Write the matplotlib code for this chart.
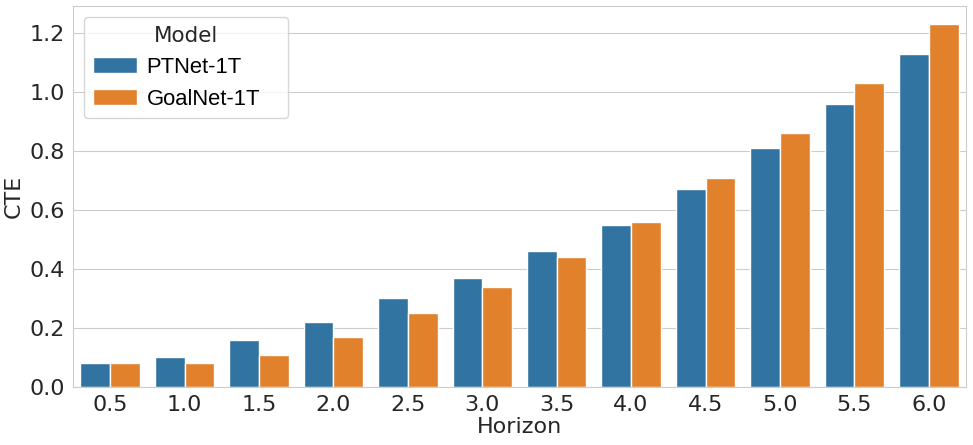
import matplotlib
matplotlib.use("Agg")
import matplotlib.pyplot as plt
import seaborn as sns
import pandas as pd

horizons = ["0.5", "1.0", "1.5", "2.0", "2.5", "3.0", "3.5", "4.0", "4.5", "5.0", "5.5", "6.0"]
ptnet = [0.08, 0.10, 0.16, 0.22, 0.30, 0.37, 0.46, 0.55, 0.67, 0.81, 0.96, 1.13]
goalnet = [0.08, 0.08, 0.11, 0.17, 0.25, 0.34, 0.44, 0.56, 0.71, 0.86, 1.03, 1.23]
models = ["PTNet-1T", "GoalNet-1T"]

df = pd.DataFrame({
    "Horizon": horizons * 2,
    "CTE": ptnet + goalnet,
    "Model": [models[0]] * len(horizons) + [models[1]] * len(horizons),
})

sns.set_style("whitegrid")
fig = plt.figure(figsize=(9.73, 4.45), dpi=100)
ax = fig.add_axes([73 / 973, 1 - 387 / 445, (966 - 73) / 973, (387 - 6) / 445])
sns.barplot(data=df, x="Horizon", y="CTE", hue="Model", order=horizons,
            hue_order=models, palette=["#1f77b4", "#ff7f0e"], ax=ax)
ax.tick_params(labelsize=16, colors="#262626", pad=2.5)
ax.set_xlabel("Horizon", fontsize=16, color="#262626", labelpad=1)
ax.set_ylabel("CTE", fontsize=16, color="#262626")
leg = ax.legend(title="Model", loc="upper left", bbox_to_anchor=(0, 0, 0.253, 1), mode="expand",
                prop={"family": "Liberation Sans", "size": 15.8},
                title_fontsize=15.5, handletextpad=0.45)
for t in leg.get_texts():
    t.set_color("black")
leg.get_title().set_color("#262626")
fig.savefig("out.png", dpi=100)
